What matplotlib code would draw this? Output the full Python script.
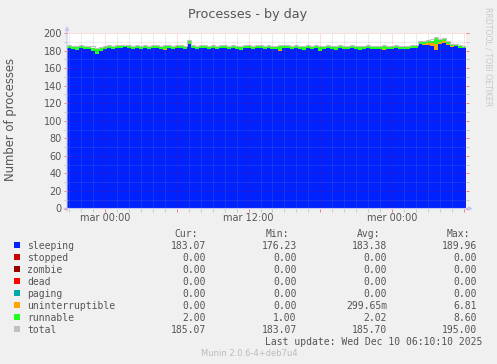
import matplotlib
matplotlib.use('Agg')
import matplotlib.pyplot as plt
import numpy as np
from matplotlib.patches import Rectangle

# 20-minute samples, hours relative to "mar 00:00" (last update Wed 06:10)
t_start = -(3 + 10 / 60)
n_bins = 100

sleeping = [
    183, 182, 181, 183, 182, 182, 179, 176, 180, 182,
    183, 182, 183, 183, 184, 183, 182, 183, 182, 183,
    182, 183, 183, 182, 181, 183, 182, 183, 183, 182,
    188, 183, 182, 183, 183, 182, 183, 182, 183, 183,
    182, 183, 182, 181, 183, 183, 182, 183, 183, 182,
    183, 182, 182, 180, 183, 183, 182, 183, 182, 181,
    183, 182, 183, 180, 182, 183, 182, 181, 183, 182,
    182, 183, 182, 181, 182, 183, 182, 182, 182, 181,
    182, 182, 183, 182, 182, 182, 183, 183, 187, 186,
    186, 185, 181, 187, 189, 186, 184, 185, 183, 183]
stopped = [0] * n_bins
zombie = [0] * n_bins
dead = [0] * n_bins
paging = [0] * n_bins
uninterruptible = [0] * n_bins
for i, v in {24: 1, 53: 1, 79: 1, 88: 1, 89: 2, 90: 3, 91: 4, 92: 7,
             93: 3, 94: 2, 95: 2, 96: 1}.items():
    uninterruptible[i] = v
runnable = [
    2, 2, 3, 2, 2, 2, 4, 6, 3, 2,
    2, 2, 2, 2, 1, 2, 2, 2, 2, 2,
    2, 2, 2, 2, 3, 2, 2, 2, 2, 2,
    3, 2, 2, 2, 2, 2, 2, 2, 2, 2,
    2, 2, 2, 3, 2, 2, 2, 2, 2, 2,
    2, 2, 2, 4, 2, 2, 2, 2, 2, 3,
    2, 2, 2, 4, 2, 2, 2, 3, 2, 2,
    2, 2, 2, 3, 2, 2, 2, 2, 2, 3,
    2, 2, 2, 2, 2, 2, 2, 2, 2, 2,
    2, 2, 6, 2, 2, 2, 2, 2, 2, 2]
total = [
    186, 185, 185, 186, 185, 185, 185, 183, 184, 185,
    186, 185, 186, 186, 186, 186, 185, 186, 185, 186,
    185, 186, 186, 185, 186, 186, 185, 186, 186, 185,
    192, 186, 185, 186, 186, 185, 186, 185, 186, 186,
    185, 186, 185, 185, 186, 186, 185, 186, 186, 185,
    186, 185, 185, 186, 186, 186, 185, 186, 185, 185,
    186, 185, 186, 185, 185, 186, 185, 185, 186, 185,
    185, 186, 185, 185, 185, 186, 185, 185, 185, 186,
    185, 185, 186, 185, 185, 185, 186, 186, 191, 191,
    192, 193, 195, 193, 194, 191, 188, 188, 186, 185]

names = ['sleeping', 'stopped', 'zombie', 'dead', 'paging',
         'uninterruptible', 'runnable', 'total']
colors = ['#0022FF', '#CC0000', '#990000', '#FF0000', '#00AAAA',
          '#FFA500', '#22FF22', '#C0C0C0']
cur = ['183.07', '0.00', '0.00', '0.00', '0.00', '0.00', '2.00', '185.07']
mins = ['176.23', '0.00', '0.00', '0.00', '0.00', '0.00', '1.00', '183.07']
avgs = ['183.38', '0.00', '0.00', '0.00', '0.00', '299.65m', '2.02', '185.70']
maxs = ['189.96', '0.00', '0.00', '0.00', '0.00', '6.81', '8.60', '195.00']

W, H = 497, 364
fig = plt.figure(figsize=(W / 100, H / 100), dpi=100, facecolor='#F0F0F0')


def fx(x):
    return x / W


def fy(y):
    return 1 - y / H


x0, x1, ytop, ybot = 67, 466, 33, 208.5
ax = fig.add_axes([fx(x0), fy(ybot), (x1 - x0) / W, (ybot - ytop) / H])
ax.set_facecolor('white')

edges = t_start + np.arange(n_bins + 1) / 3
stack = [sleeping, stopped, zombie, dead, paging, uninterruptible, runnable]
base = np.zeros(n_bins)
for vals, c in zip(stack, colors):
    top = base + np.array(vals, dtype=float)
    ax.stairs(top, edges, baseline=base, fill=True, color=c, lw=0, zorder=1)
    base = top
ax.stairs(total, edges, baseline=None, color='#C0C0C0', lw=0.8, zorder=2)

ax.set_xlim(edges[0], edges[-1])
ax.set_ylim(0, 200)

# grid like rrdtool: gray dotted minor, red dotted major, drawn over the data
ax.set_xticks([0, 6, 12, 18, 24, 30])
ax.set_xticklabels(['mar 00:00', '', 'mar 12:00', '', 'mer 00:00', ''])
ax.set_xticks(np.arange(-3, 31), minor=True)
ax.set_yticks(np.arange(0, 201, 20))
ax.set_yticks(np.arange(10, 200, 20), minor=True)
ax.set_axisbelow(False)
ax.grid(which='minor', color='#8F8F8F', alpha=0.35, lw=0.72, ls=(0, (1, 1)))
ax.grid(which='major', color='#E50000', alpha=0.25, lw=0.72, ls=(0, (1, 1)))

ax.tick_params(which='major', direction='out', length=2, width=0.72,
               color='#F08080', labelsize=7, labelcolor='#555555', pad=1.6,
               right=True)
ax.tick_params(which='minor', direction='out', length=2, width=0.72,
               color='#C8C8C8', right=True)
ax.tick_params(axis='x', which='major', pad=1.4)
for s in ax.spines.values():
    s.set_visible(False)

# axis lines with arrows
arrow_c = '#C4C8F0'
ax.annotate('', xy=(fx(473), fy(ybot)), xytext=(fx(64), fy(ybot)),
            xycoords='figure fraction', textcoords='figure fraction',
            arrowprops=dict(arrowstyle='-|>', color=arrow_c, lw=0.8,
                            mutation_scale=6, shrinkA=0, shrinkB=0))
ax.annotate('', xy=(fx(x0), fy(26)), xytext=(fx(x0), fy(211)),
            xycoords='figure fraction', textcoords='figure fraction',
            arrowprops=dict(arrowstyle='-|>', color=arrow_c, lw=0.8,
                            mutation_scale=6, shrinkA=0, shrinkB=0))

txt = '#555555'
fig.text(fx(247.5), fy(18), 'Processes - by day', ha='center', va='baseline',
         fontsize=9.2, color=txt)
fig.text(fx(10.5), fy(120), 'Number of processes', rotation=90, ha='center',
         va='center', fontsize=8.4, color=txt)
fig.text(fx(488), fy(56.5), 'RRDTOOL / TOBI OETIKER', rotation=270,
         ha='center', va='center', fontsize=5.6, color='#C8C8C8')

# legend table
mono = dict(family='DejaVu Sans Mono', fontsize=7, color=txt, va='baseline')
for xr, head in zip([198.3, 289.3, 380, 470], ['Cur:', 'Min:', 'Avg:', 'Max:']):
    fig.text(fx(xr), fy(237.3), head, ha='right', **mono)
for i, name in enumerate(names):
    yb = 249 + 12 * i
    fig.patches.append(Rectangle((fx(14), fy(yb - 1)), 6 / W, 6 / H,
                                 transform=fig.transFigure,
                                 facecolor=colors[i], edgecolor='none'))
    fig.text(fx(27), fy(yb), name, ha='left', **mono)
    for xr, col in zip([206, 296.7, 387.3, 477.3], [cur, mins, avgs, maxs]):
        fig.text(fx(xr), fy(yb), col[i], ha='right', **mono)
fig.text(fx(482.7), fy(345), 'Last update: Wed Dec 10 06:10:10 2025',
         ha='right', **mono)
fig.text(fx(249), fy(356), 'Munin 2.0.6-4+deb7u4', ha='center', va='baseline',
         fontsize=6, color='#BBBBBB')

fig.savefig('out.png', dpi=100, facecolor=fig.get_facecolor())
